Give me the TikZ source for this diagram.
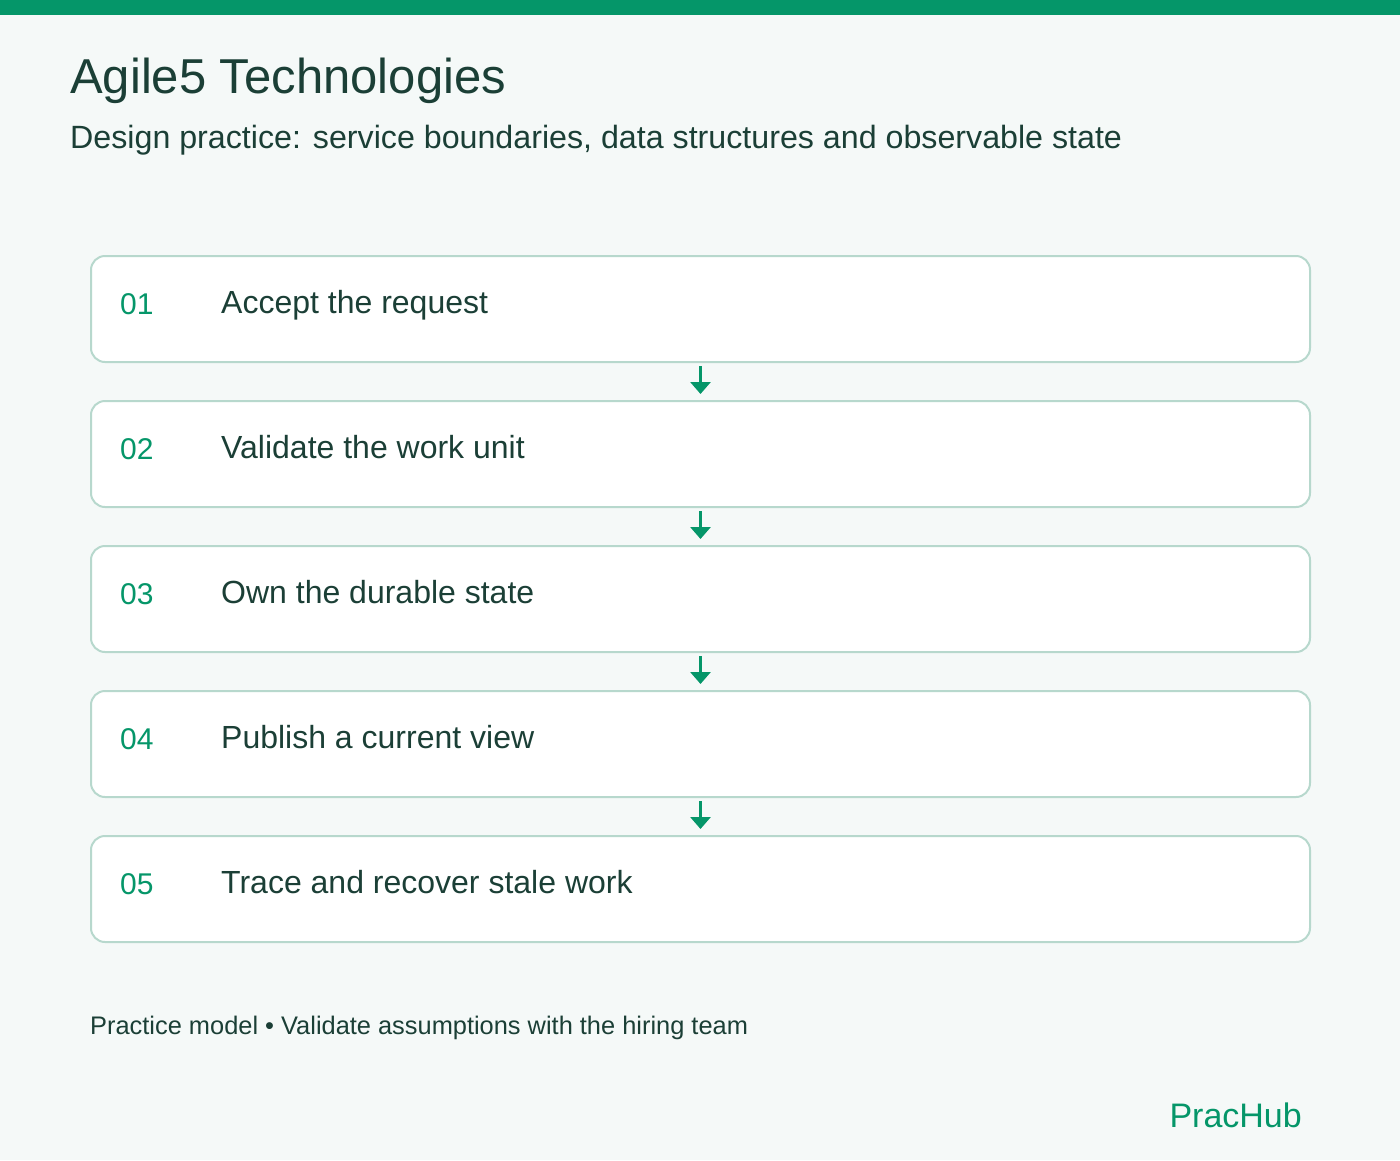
\documentclass[tikz,border=0pt]{standalone}
\usepackage{fontspec}
\setmainfont{Liberation Sans}
\usetikzlibrary{arrows.meta}
\definecolor{bg}{HTML}{F5F9F8}
\definecolor{brand}{HTML}{059669}
\definecolor{ink}{HTML}{1B3F36}
\definecolor{edge}{HTML}{B7D8CD}
\tikzset{
  stepbox/.style={draw=edge, line width=2pt, fill=white, rounded corners=14pt,
    minimum width=1219pt, minimum height=106pt, inner sep=0pt},
  numtxt/.style={anchor=base west, inner sep=0pt, text=brand, font=\fontsize{30}{36}\selectfont},
  labtxt/.style={anchor=base west, inner sep=0pt, text=ink, font=\fontsize{32}{38}\selectfont},
  flowarrow/.style={draw=brand, line width=3pt, -{Triangle[width=20pt,length=12pt]}, shorten <=3pt, shorten >=6pt},
}
\begin{document}
\begin{tikzpicture}[x=1pt,y=-1pt]
\useasboundingbox (0,0) rectangle (1400,1160);
\fill[bg] (0,0) rectangle (1400,1160);
\fill[brand] (0,0) rectangle (1400,15);
\node[anchor=base west, inner sep=0pt, text=ink, font=\fontsize{49}{56}\selectfont] (title) at (70,93) {Agile5 Technologies};
\node[anchor=base west, inner sep=0pt, text=ink, font=\fontsize{32.2}{38}\selectfont] (subtitle) at (70,148) {Design practice: service boundaries, data structures and observable state};
\foreach \i/\y/\num/\lab in {1/309/01/Accept the request, 2/454/02/Validate the work unit, 3/599/03/Own the durable state, 4/744/04/Publish a current view, 5/889/05/Trace and recover stale work}{
  \node[stepbox] (b\i) at (700.5,\y) {};
  \node[numtxt] (n\i) at (120,\y+5) {\num};
  \node[labtxt] (l\i) at (221,\y+4) {\lab};
}
\foreach \a/\b in {1/2,2/3,3/4,4/5}{
  \draw[flowarrow] (b\a.south) -- (b\b.north);
}
\node[anchor=base west, inner sep=0pt, text=ink, font=\fontsize{25.4}{30}\selectfont] (foot) at (90,1034.5) {Practice model • Validate assumptions with the hiring team};
\node[anchor=base east, inner sep=0pt, text=brand, font=\fontsize{34}{40}\selectfont] (brandname) at (1302,1127) {PracHub};
\end{tikzpicture}
\end{document}
